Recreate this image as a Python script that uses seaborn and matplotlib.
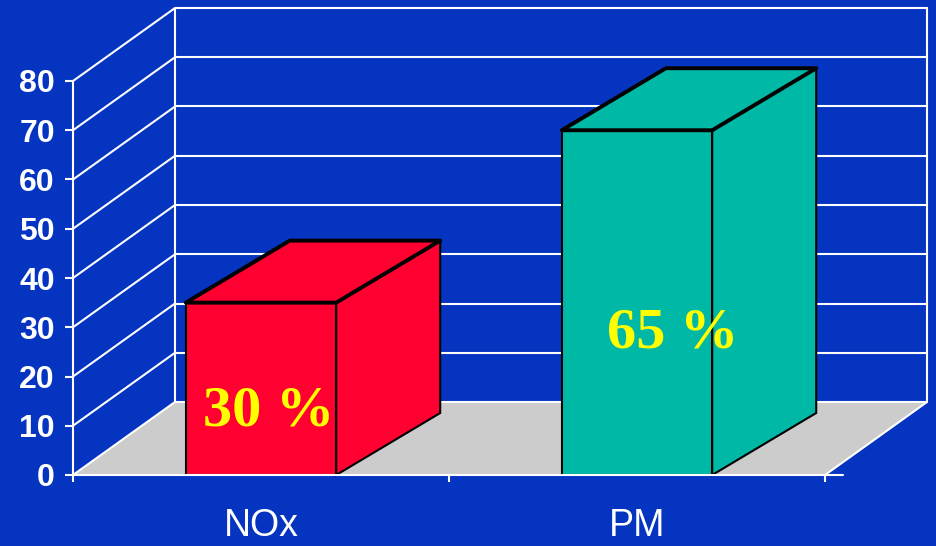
import numpy as np
import pandas as pd
import matplotlib
matplotlib.use("Agg")
import matplotlib.pyplot as plt
from matplotlib.patches import Polygon
import seaborn as sns

# data
categories = ["NOx", "PM"]
values = [35, 70]
bar_labels = ["30 %", "65 %"]
label_y = [12.8, 28.8]
label_dx = [0.02, 0.096]
y_ticks = [0, 10, 20, 30, 40, 50, 60, 70, 80]

# style
BG = "#0434C0"
FLOOR = "#CCCCCC"
bar_colors = ["#FF0030", "#00B8A6"]
WALL_DX, WALL_DY = 102, 73   # depth of the box, pixels
BAR_DX, BAR_DY = 104, 62     # depth of the bars, pixels

sns.set_style("white")
plt.rcParams["font.family"] = ["Liberation Sans", "DejaVu Sans"]

fig = plt.figure(figsize=(9.36, 5.46), dpi=100, facecolor=BG)
ax = fig.add_axes([73 / 936, 71 / 546, 752 / 936, 394 / 546])
ax.set_facecolor("none")

df = pd.DataFrame({"cat": categories, "val": values})
sns.barplot(data=df, x="cat", y="val", hue="cat", palette=bar_colors,
            width=0.4, saturation=1, edgecolor="black", linewidth=1.5,
            legend=False, ax=ax, zorder=5)
ax.set_xlim(-0.5, 1.5)
ax.set_ylim(0, 80)
ax.set_xlabel("")
ax.set_ylabel("")


def shifted(pts, dx, dy):
    # move data points back into the chart depth, in pixels
    s = fig.dpi / 100
    disp = ax.transData.transform(np.asarray(pts, dtype=float))
    disp[:, 0] += dx * s
    disp[:, 1] += dy * s
    return ax.transData.inverted().transform(disp)


x0, x1 = ax.get_xlim()
ytop = y_ticks[-1]

# floor
front = [(x0, 0), (x1, 0)]
back = shifted(front, WALL_DX, WALL_DY)
ax.add_patch(Polygon([front[0], front[1], back[1], back[0]], closed=True,
                     facecolor=FLOOR, edgecolor="none", zorder=1, clip_on=False))
ax.plot([front[1][0], back[1][0]], [0, back[1][1]], color="white", lw=1.5,
        zorder=2, clip_on=False)

# back wall gridlines and side wall diagonals
for y in y_ticks:
    b = shifted([(x0, y), (x1, y)], WALL_DX, WALL_DY)
    ax.plot(b[:, 0], b[:, 1], color="white", lw=1.5, zorder=2, clip_on=False)
    ax.plot([x0, b[0, 0]], [y, b[0, 1]], color="white", lw=1.5, zorder=2,
            clip_on=False)
for xe in (x0, x1):
    b = shifted([(xe, 0), (xe, ytop)], WALL_DX, WALL_DY)
    ax.plot(b[:, 0], b[:, 1], color="white", lw=1.5, zorder=2, clip_on=False)

# 3d faces of the bars
for p in ax.patches[:]:
    if not hasattr(p, "get_width") or p.get_height() <= 0:
        continue
    xl = p.get_x()
    xr = xl + p.get_width()
    h = p.get_height()
    fc = p.get_facecolor()
    top_back = shifted([(xl, h), (xr, h)], BAR_DX, BAR_DY)
    side_back = shifted([(xr, h), (xr, 0)], BAR_DX, BAR_DY)
    ax.add_patch(Polygon([(xr, 0), (xr, h), side_back[0], side_back[1]],
                         closed=True, facecolor=fc, edgecolor="black", lw=1.5,
                         zorder=4, clip_on=False))
    ax.add_patch(Polygon([(xl, h), (xr, h), top_back[1], top_back[0]],
                         closed=True, facecolor=fc, edgecolor="black", lw=2.8,
                         joinstyle="round", zorder=6, clip_on=False))

# value labels
for i, lab in enumerate(bar_labels):
    ax.text(i + label_dx[i], label_y[i], lab, color="#FFFF00", fontsize=42,
            fontweight="bold", family=["Liberation Serif", "DejaVu Serif"],
            ha="center", va="center", zorder=7)

# axes
for side in ("top", "right"):
    ax.spines[side].set_visible(False)
for side in ("left", "bottom"):
    ax.spines[side].set_color("white")
    ax.spines[side].set_linewidth(1.5)
    ax.spines[side].set_zorder(8)
# x axis line runs a little past the last tick
ext = shifted([(x1, 0)], 18, 0)[0]
ax.plot([x1, ext[0]], [0, 0], color="white", lw=1.5, zorder=8, clip_on=False)

ax.set_yticks(y_ticks)
ax.tick_params(axis="y", colors="white", labelsize=23, length=6, width=1.5,
               pad=7, left=True)
for t in ax.get_yticklabels():
    t.set_fontweight("bold")

ax.set_xticks([0, 1], categories)
ax.set_xticks([-0.5, 0.5, 1.5], minor=True)
ax.tick_params(axis="x", which="major", length=0, pad=24, labelsize=27,
               labelcolor="white")
ax.tick_params(axis="x", which="minor", length=5, width=1.5, color="white",
               bottom=True)

fig.savefig("out.png", dpi=100, facecolor=BG)
